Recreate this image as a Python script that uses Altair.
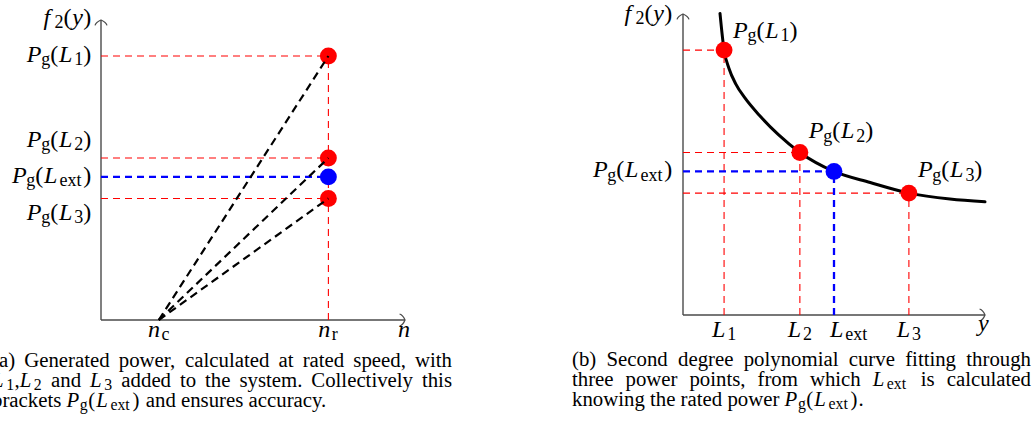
import altair as alt
import pandas as pd

# ---------------------------------------------------------------- values
# normalised generated power for the three added loads and the external load
power_points = [0.88, 0.54, 0.405]      # Pg(L1), Pg(L2), Pg(L3)
power_ext = 0.477                       # Pg(Lext)

# panel (a): generator speed
speed_cut_in = 0.19                     # n_c
speed_rated = 0.748                     # n_r

# panel (b): load values
load_points = [0.136, 0.387, 0.748]     # L1, L2, L3
load_ext = 0.5                          # Lext

# panel (b): fitted curve f2(y)
curve_load = [0.1225, 0.136, 0.152, 0.175, 0.205, 0.255, 0.315, 0.387,
              0.5, 0.62, 0.748, 0.884, 1.0]
curve_power = [1.002, 0.88, 0.82, 0.767, 0.721, 0.661, 0.60, 0.54,
               0.477, 0.44, 0.405, 0.385, 0.376]

# ---------------------------------------------------------------- scales
A_X = ([0, 1], [101, 405])
A_Y = ([0, 1], [320, 20])
B_X = ([0, 1], [683, 985])
B_Y = ([0, 1], [315, 14])


def sc(s):
    return alt.Scale(domain=s[0], range=s[1], nice=False, zero=False)


def px(s, v):
    (d0, d1), (r0, r1) = s
    return r0 + (v - d0) / (d1 - d0) * (r1 - r0)


AXIS = "#4a4a4a"
RED = "#ff0000"
BLUE = "#0000ff"
FONT = "Liberation Serif"

# ---------------------------------------------------------------- text metrics
TIMES = {' ': 250, '(': 333, ')': 333, ',': 250, '.': 250,
         'a': 444, 'b': 500, 'c': 444, 'd': 500, 'e': 444, 'f': 333, 'g': 500,
         'h': 500, 'i': 278, 'j': 278, 'k': 500, 'l': 278, 'm': 778, 'n': 500,
         'o': 500, 'p': 500, 'q': 500, 'r': 333, 's': 389, 't': 278, 'u': 500,
         'v': 500, 'w': 722, 'x': 500, 'y': 500, 'z': 444,
         'C': 667, 'G': 722, 'S': 556}
MATH_IT = {'P': 0.642, 'L': 0.681, 'f': 0.49, 'y': 0.49, 'n': 0.6}
MATH_RM = {'(': 0.389, ')': 0.389, '.': 0.278, ',': 0.278}
MATH_SUB = {'g': 0.569, 'e': 0.515, 'x': 0.6, 't': 0.4, 'c': 0.515,
            'r': 0.437, '1': 0.569, '2': 0.569, '3': 0.569}


def run_width(t, kind, em):
    if kind == "rm":
        return sum(TIMES[c] for c in t) / 1000 * em
    if kind == "mi":
        return sum(MATH_IT[c] for c in t) * em
    if kind == "mr":
        return sum(MATH_RM[c] for c in t) * em
    return sum(MATH_SUB[c] for c in t) * 0.7 * em


def text_rows(runs, x, y, em, align="left", main=1.0, sub_size=0.78):
    widths = [run_width(t, k, em) for t, k in runs]
    total = sum(widths)
    if align == "right":
        x -= total
    elif align == "center":
        x -= total / 2
    rows = []
    for (t, k), w in zip(runs, widths):
        sub = k == "sub"
        if k == "rm":
            size = em
        elif sub:
            size = em * sub_size
        else:
            size = em * main
        rows.append(dict(x=x, y=y + (0.15 * em if sub else 0), text=t, size=size,
                         style="italic" if k == "mi" else "normal"))
        x += w
    return rows


def words(s):
    return [[(w, "rm")] for w in s.split()]


def caption_line(ws, x0, x1, y, em, justify=True):
    widths = [sum(run_width(t, k, em) for t, k in w) for w in ws]
    gap = (x1 - x0 - sum(widths)) / (len(ws) - 1) if justify else TIMES[' '] / 1000 * em
    rows, x = [], x0
    for w, wd in zip(ws, widths):
        rows += text_rows(w, x, y, em, main=1.0, sub_size=0.76)
        x += wd + gap
    return rows


def pg(sub):
    return [("P", "mi"), ("g", "sub"), ("(", "mr"), ("L", "mi"), (sub, "sub"), (")", "mr")]


F2Y = [("f", "mi"), ("2", "sub"), ("(", "mr"), ("y", "mi"), (")", "mr")]
LEM = 22.5   # label spacing
LMAIN = 1.07  # label glyph size relative to spacing
CEM = 20.8   # caption size


def label(runs, x, y, align="left"):
    return text_rows(runs, x, y, LEM, align, main=LMAIN, sub_size=0.8)


rows = []
# panel (a) labels
rows += label(F2Y, 92, px(A_Y, 1) + 5, "right")
for sub, v, off in [("1", power_points[0], 5.6), ("2", power_points[1], -11.5),
                    ("ext", power_ext, 5.6), ("3", power_points[2], 21)]:
    rows += label(pg(sub), 92, px(A_Y, v) + off, "right")
rows += label([("n", "mi"), ("c", "sub")], px(A_X, speed_cut_in), 337, "center")
rows += label([("n", "mi"), ("r", "sub")], px(A_X, speed_rated), 337, "center")
rows += label([("n", "mi")], px(A_X, 1) - 7, 337)

# panel (b) labels
rows += label(F2Y, 673, px(B_Y, 1) + 6.6, "right")
rows += label(pg("ext"), 673, px(B_Y, power_ext) + 5.9, "right")
for sub, lv, pv, off in [("1", load_points[0], power_points[0], -12.5),
                         ("2", load_points[1], power_points[1], -14),
                         ("3", load_points[2], power_points[2], -15.6)]:
    rows += label(pg(sub), px(B_X, lv) + 9, px(B_Y, pv) + off)
    rows += label([("L", "mi"), (sub, "sub")], px(B_X, lv), 337, "center")
rows += label([("L", "mi"), ("ext", "sub")], px(B_X, load_ext) - 4, 337)
rows += label([("y", "mi")], px(B_X, 1) - 7, 331)

# captions
L_EXT = [("L", "mi"), ("ext", "sub")]
rows += caption_line(words("(a) Generated power, calculated at rated speed, with"), -8, 452, 366.5, CEM)
rows += caption_line([[("L", "mi"), ("1", "sub"), (",", "rm"), ("L", "mi"), ("2", "sub")],
                      [("and", "rm")], [("L", "mi"), ("3", "sub")]]
                     + words("added to the system. Collectively this"), -8, 452, 386.5, CEM)
rows += caption_line(words("brackets") + [pg("ext")] + words("and ensures accuracy."),
                     -8, 452, 407, CEM, justify=False)
rows += caption_line(words("(b) Second degree polynomial curve fitting through"), 572, 1031, 365.5, CEM)
rows += caption_line(words("three power points, from which") + [L_EXT] + words("is calculated"),
                     572, 1031, 385.5, CEM)
rows += caption_line(words("knowing the rated power") + [pg("ext") + [(".", "rm")]],
                     572, 1031, 405.5, CEM, justify=False)
text_df = pd.DataFrame(rows)

# ---------------------------------------------------------------- layers


def segments(seg, sx, sy, color, width, dash=None):
    df = pd.DataFrame(seg, columns=["x", "y", "x2", "y2"])
    kw = dict(color=color, strokeWidth=width)
    if dash:
        kw["strokeDash"] = dash
    return alt.Chart(df).mark_rule(**kw).encode(
        x=alt.X("x:Q", scale=sc(sx), axis=None),
        y=alt.Y("y:Q", scale=sc(sy), axis=None),
        x2="x2:Q", y2="y2:Q")


def dots(xs, ys, colors, sx, sy):
    df = pd.DataFrame({"x": xs, "y": ys, "c": colors})
    return alt.Chart(df).mark_circle(size=285, opacity=1).encode(
        x=alt.X("x:Q", scale=sc(sx), axis=None),
        y=alt.Y("y:Q", scale=sc(sy), axis=None),
        color=alt.Color("c:N", scale=None, legend=None))


ARROW = "M -1 0.9 C -0.85 0.45 -0.3 0.12 0 0 C 0.3 0.12 0.85 0.45 1 0.9"


def arrow(x, y, sx, sy, angle):
    df = pd.DataFrame({"x": [x], "y": [y]})
    return alt.Chart(df).mark_point(shape=ARROW, filled=False, size=144, opacity=1,
                                    color=AXIS, strokeWidth=1.3, angle=angle).encode(
        x=alt.X("x:Q", scale=sc(sx), axis=None),
        y=alt.Y("y:Q", scale=sc(sy), axis=None))


layers = []
# panel (a)
layers.append(segments([(0, 0, 1, 0), (0, 0, 0, 1)], A_X, A_Y, AXIS, 1.4))
layers.append(segments([(0, p, speed_rated, p) for p in power_points]
                       + [(speed_rated, 0, speed_rated, max(power_points))],
                       A_X, A_Y, RED, 1.1, [7, 5]))
layers.append(segments([(0, power_ext, speed_rated, power_ext)], A_X, A_Y, BLUE, 2.3, [7, 5]))
layers.append(dots([speed_rated] * 4, power_points + [power_ext],
                   [RED, RED, RED, BLUE], A_X, A_Y))
layers.append(segments([(speed_cut_in, 0, speed_rated, p) for p in power_points],
                       A_X, A_Y, "black", 2.2, [8, 5]))
layers.append(arrow(0, 1, A_X, A_Y, 0))
layers.append(arrow(1, 0, A_X, A_Y, 90))

# panel (b)
layers.append(segments([(0, 0, 1, 0), (0, 0, 0, 1)], B_X, B_Y, AXIS, 1.4))
layers.append(segments([(0, p, l, p) for l, p in zip(load_points, power_points)]
                       + [(l, 0, l, p) for l, p in zip(load_points, power_points)],
                       B_X, B_Y, RED, 1.1, [7, 5]))
layers.append(segments([(0, power_ext, load_ext, power_ext), (load_ext, 0, load_ext, power_ext)],
                       B_X, B_Y, BLUE, 2.3, [7, 5]))
curve_df = pd.DataFrame({"load": curve_load, "power": curve_power})
layers.append(alt.Chart(curve_df).mark_line(color="black", strokeWidth=3, strokeCap="round",
                                             interpolate="monotone").encode(
    x=alt.X("load:Q", scale=sc(B_X), axis=None),
    y=alt.Y("power:Q", scale=sc(B_Y), axis=None)))
layers.append(dots(load_points + [load_ext], power_points + [power_ext],
                   [RED, RED, RED, BLUE], B_X, B_Y))
layers.append(arrow(0, 1, B_X, B_Y, 0))
layers.append(arrow(1, 0, B_X, B_Y, 90))

# text
for style in ["normal", "italic"]:
    layers.append(alt.Chart(text_df).transform_filter(alt.datum.style == style).mark_text(
        align="left", baseline="alphabetic", font=FONT,
        fontStyle=style, color="black").encode(
        x=alt.X("x:Q", scale=None, axis=None),
        y=alt.Y("y:Q", scale=None, axis=None),
        text="text:N",
        size=alt.Size("size:Q", scale=None, legend=None)))

chart = alt.layer(*layers).resolve_scale(x="independent", y="independent").properties(
    width=1036, height=425, autosize=alt.AutoSizeParams(type="none"), padding=0,
    background="white"
).configure_view(stroke=None)

chart.save("out.html", embed_options={"renderer": "svg", "actions": False})
